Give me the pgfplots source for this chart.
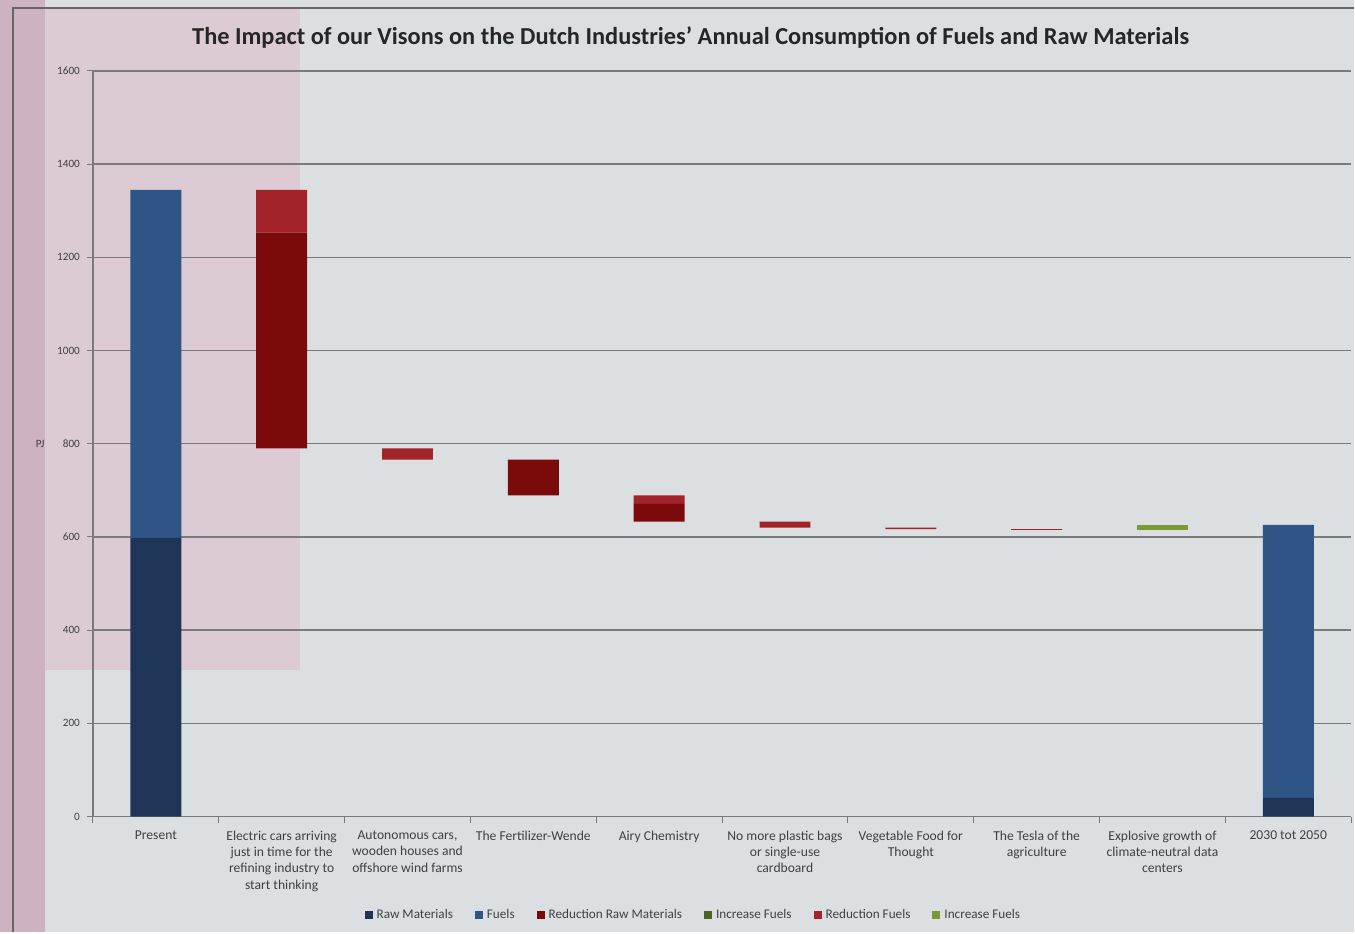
\documentclass[border=0pt]{standalone}
\usepackage{pgfplots}
\pgfplotsset{compat=1.18}
\usepackage{fontspec}
\setmainfont{Carlito}
\definecolor{bgGrey}{HTML}{DCDFE2}
\definecolor{pinkA}{HTML}{CDB3C2}
\definecolor{pinkB}{HTML}{DCCAD4}
\definecolor{gridGrey}{HTML}{7A7A7A}
\definecolor{rawCol}{HTML}{1F3557}
\definecolor{fuelCol}{HTML}{2E5586}
\definecolor{redRaw}{HTML}{7B0A0A}
\definecolor{redFuel}{HTML}{A3232B}
\definecolor{incDark}{HTML}{4F6228}
\definecolor{incLight}{HTML}{7A9A33}

\begin{document}
\begin{tikzpicture}
% page background, 1 px of the reference = 0.5pt
\fill[bgGrey] (0,0) rectangle (677.5pt,466.5pt);
\fill[pinkA] (0,0) rectangle (22.5pt,466.5pt);
\fill[pinkB] (22.5pt,131.5pt) rectangle (150pt,462.5pt);
\draw[black!60, line width=0.8pt] (6.5pt,0) -- (6.5pt,462.5pt) -- (677.5pt,462.5pt);

\node[font=\bfseries\fontsize{12.2}{14}\selectfont, text=black!85] at (345.5pt,447.5pt)
  {The Impact of our Visons on the Dutch Industries’ Annual Consumption of Fuels and Raw Materials};

\begin{axis}[
    at={(46.5pt,58pt)}, anchor=south west,
    scale only axis, width=629.5pt, height=373pt,
    ybar stacked, bar width=25.5pt,
    xmin=-0.5, xmax=9.5, ymin=0, ymax=1600,
    axis x line*=bottom, axis y line*=left,
    axis line style={gridGrey, line width=0.6pt},
    ytick={0,200,...,1600},
    ymajorgrids, grid style={gridGrey, line width=0.7pt},
    major tick length=3pt,
    tick style={gridGrey, line width=0.5pt},
    tick align=outside,
    xtick={0,...,9},
    x tick style={draw=none},
    minor xtick={-0.5,0.5,...,9.5},
    minor x tick style={gridGrey, line width=0.5pt, draw},
    minor tick length=3pt,
    xticklabels={Present,
      {Electric cars arriving\\just in time for the\\refining industry to\\start thinking},
      {Autonomous cars,\\wooden houses and\\offshore wind farms},
      The Fertilizer-Wende,
      Airy Chemistry,
      {No more plastic bags\\or single-use\\cardboard},
      {Vegetable Food for\\Thought},
      {The Tesla of the\\agriculture},
      {Explosive growth of\\climate-neutral data\\centers},
      2030 tot 2050},
    xticklabel style={align=center, font=\fontsize{6.8}{8.2}\selectfont, text=black!75, yshift=-0.5pt},
    yticklabel style={font=\fontsize{5.6}{6}\selectfont, text=black!75},
    /pgf/number format/assume math mode=true,
    /pgf/number format/1000 sep={},
    ylabel={PJ},
    ylabel style={rotate=-90, at={(axis description cs:-0.042,0.5)}, anchor=center,
      font=\fontsize{5.6}{6}\selectfont, text=black!75},
    legend columns=6,
    legend style={at={(axis description cs:0.478,-0.1327)}, anchor=center,
      draw=none, fill=none, font=\fontsize{6.6}{7.5}\selectfont, text=black!75,
      /tikz/every even column/.append style={column sep=9pt}},
    legend image code/.code={\fill[#1] (0pt,-2pt) rectangle (4pt,2pt);},
]
% invisible base of the waterfall
\addplot[forget plot, draw=none, fill=none] coordinates
  {(0,0) (1,790) (2,766) (3,689) (4,633) (5,620) (6,617) (7,615) (8,615) (9,0)};
\addplot[draw=none, fill=rawCol] coordinates
  {(0,598) (1,0) (2,0) (3,0) (4,0) (5,0) (6,0) (7,0) (8,0) (9,40)};
\addplot[draw=none, fill=fuelCol] coordinates
  {(0,747) (1,0) (2,0) (3,0) (4,0) (5,0) (6,0) (7,0) (8,0) (9,586)};
\addplot[draw=none, fill=redRaw] coordinates
  {(0,0) (1,463) (2,0) (3,77) (4,38) (5,0) (6,0) (7,0) (8,0) (9,0)};
\addplot[draw=none, fill=incDark] coordinates
  {(0,0) (1,0) (2,0) (3,0) (4,0) (5,0) (6,0) (7,0) (8,0) (9,0)};
\addplot[draw=none, fill=redFuel] coordinates
  {(0,0) (1,92) (2,24) (3,0) (4,18) (5,13) (6,3) (7,2) (8,0) (9,0)};
\addplot[draw=none, fill=incLight] coordinates
  {(0,0) (1,0) (2,0) (3,0) (4,0) (5,0) (6,0) (7,0) (8,11) (9,0)};
\legend{Raw Materials, Fuels, Reduction Raw Materials, Increase Fuels, Reduction Fuels, Increase Fuels}
\end{axis}
\end{tikzpicture}
\end{document}
